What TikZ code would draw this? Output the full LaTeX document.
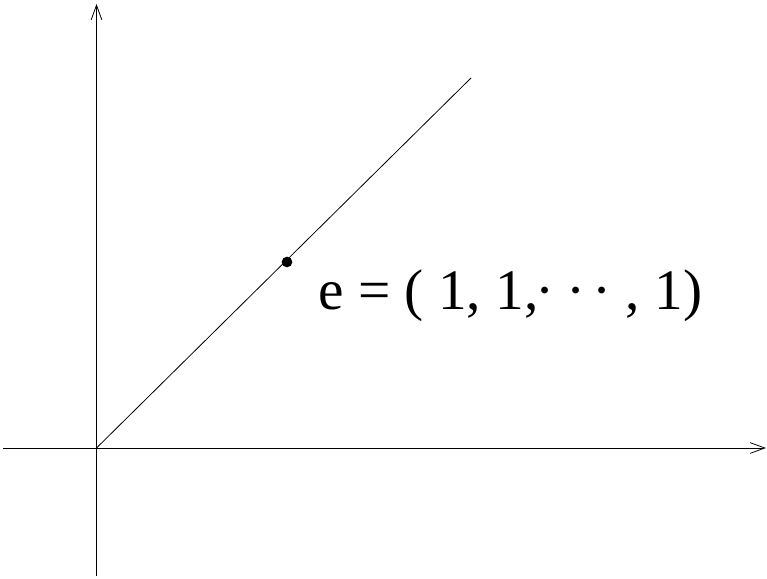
\documentclass[tikz,border=0pt]{standalone}
\usepackage{fontspec}
\setmainfont{Liberation Serif}
\usetikzlibrary{arrows.meta}

\begin{document}
\begin{tikzpicture}[
    x=0.75pt,y=-0.75pt,
    axis/.style={line width=0.6pt,-{Straight Barb[length=11pt,width=8pt,line width=0.6pt]}},
    ray/.style={line width=0.6pt},
    pt/.style={circle,fill=black,inner sep=0pt,minimum size=8pt},
    lbl/.style={anchor=base west,inner sep=0pt,font=\fontsize{43}{50}\selectfont},
]
\useasboundingbox (0,0) rectangle (767,578);
\coordinate (O) at (96.5,448);
\coordinate (xs) at (3,448);
\coordinate (xe) at (766,448);
\coordinate (ys) at (96.5,576);
\coordinate (ye) at (96.5,4);
\coordinate (re) at (471,78);
\draw[axis] (xs) -- (xe);
\draw[axis] (ys) -- (ye);
\draw[ray] (O) -- (re);
\node[pt] (e) at (287,262) {};
\node[lbl] (eq) at (318,309) {e = ( 1, 1,\kern-2.6pt·\kern9.5pt·\kern5pt· , 1)};
\end{tikzpicture}
\end{document}
